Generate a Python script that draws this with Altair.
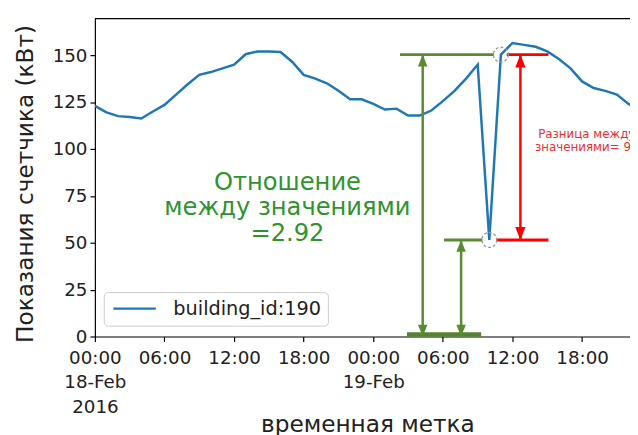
import json
import altair as alt
import pandas as pd

# ---- data ----
hours = list(range(48))  # hours since 2016-02-18 00:00
values = [123, 119.5, 117.5, 117, 116.2, 120, 123.5, 129, 134.5, 139.5, 141, 143,
          145, 150.5, 152, 152, 151.7, 146.5, 139.5, 137.5, 135, 131, 126.5, 126.5,
          124, 121, 121.5, 117.8, 117.8, 120.5, 125.5, 131, 137.5, 145, 51.5, 150.3,
          156.5, 155.5, 154.5, 152, 148, 143, 136, 132.5, 131, 129, 124, 121]
series_name = "building_id:190"

tick_hours = [0, 6, 12, 18, 24, 30, 36, 42]
tick_labels = [["00:00", "18-Feb", "2016"], ["06:00"], ["12:00"], ["18:00"],
               ["00:00", "19-Feb"], ["06:00"], ["12:00"], ["18:00"]]
y_ticks = [0, 25, 50, 75, 100, 125, 150]

low_val = 51.5
high_val = 150.3
low_hour = 34
high_hour = 35

# annotation geometry (in data units)
green_h_start = [26.3, 30.1]
green_h_end = [34.4, 33.4]
green_h_y = [high_val, low_val]
green_base = [26.9, 33.3]
green_arrow_x = [28.26, 31.57]
green_arrow_top = [high_val, low_val]
red_h_start = [35.5, 34.6]
red_h_end = [39.1, 39.1]
red_h_y = [high_val, low_val]
red_arrow_x = 36.68

ratio_text = "Отношение\nмежду значениями\n=2.92"
ratio_pos = (16.6, 82.0)
diff_text = "Разница между\nзначениями= 98"
diff_pos = (42.4, 108.2)

GREEN = "#5a8a32"
GREEN_TEXT = "#2f932f"
RED = "#ff0000"
FONT = "DejaVu Sans"
X_MAX = 46.13
Y_MAX = 169.5

# ---- helpers ----
label_expr = ""
for h, lab in zip(tick_hours, tick_labels):
    label_expr += f"datum.value == {h} ? {json.dumps(lab)} : "
label_expr += "''"

x_axis = alt.Axis(values=tick_hours, labelExpr=label_expr, title="временная метка",
                  grid=False, labelAngle=0, labelBaseline="top", labelLineHeight=25,
                  labelFont=FONT, labelFontSize=18.5, labelColor="#222222",
                  labelPadding=7, labelFlush=False, labelOverlap=False,
                  tickSize=5, tickWidth=1.2, tickColor="black",
                  domainColor="black", domainWidth=1.2,
                  titleFont=FONT, titleFontSize=23.5, titleFontWeight="normal",
                  titleColor="#222222", titleX=276, titleY=96,
                  titleBaseline="alphabetic", titleAlign="center")
y_axis = alt.Axis(values=y_ticks, title="Показания счетчика (кВт)", grid=False,
                  labelFont=FONT, labelFontSize=18.5, labelColor="#222222",
                  labelPadding=3, tickSize=5, tickWidth=1.2, tickColor="black",
                  domainColor="black", domainWidth=1.2,
                  titleFont=FONT, titleFontSize=23.5, titleFontWeight="normal",
                  titleColor="#222222", titleX=-70, titleY=167,
                  titleBaseline="middle", titleAlign="center", titleAngle=270)

xs = alt.Scale(domain=[0, X_MAX], nice=False, zero=False)
ys = alt.Scale(domain=[0, Y_MAX], nice=False, zero=False)


def X(field="hour"):
    return alt.X(f"{field}:Q", scale=xs, axis=x_axis)


def Y(field="value"):
    return alt.Y(f"{field}:Q", scale=ys, axis=y_axis)


# ---- layers ----
line_df = pd.DataFrame({"hour": hours, "value": values, "series": series_name})
line = alt.Chart(line_df).mark_line(clip=True, strokeWidth=2.5).encode(
    x=X(), y=Y(),
    color=alt.Color("series:N", scale=alt.Scale(range=["#1f77b4"]),
                    legend=alt.Legend(orient="none", legendX=9, legendY=277,
                                      title=None, symbolType="M-1,0L5.14,0",
                                      symbolSize=196, symbolStrokeWidth=2.5,
                                      labelFont=FONT, labelFontSize=19.5,
                                      labelColor="#222222", labelOffset=44,
                                      fillColor="white", strokeColor="#cccccc",
                                      cornerRadius=4, padding=7)))

gh_df = pd.DataFrame({"hour": green_h_start, "hour2": green_h_end, "value": green_h_y})
green_h = alt.Chart(gh_df).mark_rule(color=GREEN, strokeWidth=3).encode(
    x=X(), x2="hour2:Q", y=Y())

gb_df = pd.DataFrame({"hour": [green_base[0]], "hour2": [green_base[1]], "value": [0]})
green_b = alt.Chart(gb_df).mark_rule(color="#55832f", strokeWidth=4.5, yOffset=-2).encode(
    x=X(), x2="hour2:Q", y=Y())

gv_df = pd.DataFrame({"hour": green_arrow_x, "value": [0, 0], "value2": green_arrow_top})
green_v = alt.Chart(gv_df).mark_rule(color=GREEN, strokeWidth=2.5).encode(
    x=X(), y=Y(), y2="value2:Q")

rh_df = pd.DataFrame({"hour": red_h_start, "hour2": red_h_end, "value": red_h_y})
red_h = alt.Chart(rh_df).mark_rule(color=RED, strokeWidth=3).encode(
    x=X(), x2="hour2:Q", y=Y())

rv_df = pd.DataFrame({"hour": [red_arrow_x], "value": [low_val], "value2": [high_val]})
red_v = alt.Chart(rv_df).mark_rule(color=RED, strokeWidth=2.5).encode(
    x=X(), y=Y(), y2="value2:Q")

UP = "M0,0L0.8,2L-0.8,2Z"
DOWN = "M0,0L0.8,-2L-0.8,-2Z"
up_green = pd.DataFrame({"hour": green_arrow_x, "value": green_arrow_top})
down_green = pd.DataFrame({"hour": green_arrow_x, "value": [0, 0]})
heads = [
    alt.Chart(up_green).mark_point(shape=UP, filled=True, size=144, opacity=1,
                                   color=GREEN).encode(x=X(), y=Y()),
    alt.Chart(down_green).mark_point(shape=DOWN, filled=True, size=144, opacity=1,
                                     color=GREEN).encode(x=X(), y=Y()),
    alt.Chart(pd.DataFrame({"hour": [red_arrow_x], "value": [high_val]})).mark_point(
        shape=UP, filled=True, size=169, opacity=1, color=RED).encode(x=X(), y=Y()),
    alt.Chart(pd.DataFrame({"hour": [red_arrow_x], "value": [low_val]})).mark_point(
        shape=DOWN, filled=True, size=169, opacity=1, color=RED).encode(x=X(), y=Y()),
]

circ_df = pd.DataFrame({"hour": [low_hour, high_hour], "value": [low_val, high_val]})
circles = alt.Chart(circ_df).mark_point(shape="circle", size=230, filled=False,
                                        color="#999999", strokeWidth=1.3,
                                        strokeDash=[3, 2], opacity=1).encode(x=X(), y=Y())

ratio = alt.Chart(pd.DataFrame({"hour": [ratio_pos[0]], "value": [ratio_pos[1]],
                                "t": [ratio_text]})).mark_text(
    lineBreak="\n", font=FONT, fontSize=24.5, lineHeight=26, align="center",
    baseline="middle", color=GREEN_TEXT).encode(x=X(), y=Y(), text="t:N")

diff = alt.Chart(pd.DataFrame({"hour": [diff_pos[0]], "value": [diff_pos[1]],
                               "t": [diff_text]})).mark_text(
    lineBreak="\n", font=FONT, fontSize=12, lineHeight=14, align="center",
    baseline="middle", color="#e8302f").encode(x=X(), y=Y(), text="t:N")

top_spine = alt.Chart(pd.DataFrame({"a": [0]})).mark_rule(
    color="black", strokeWidth=1.2).encode(
    x=alt.value(0), x2=alt.value(560), y=alt.value(0))

chart = alt.layer(line, green_h, green_b, green_v, red_h, red_v, *heads, circles,
                  ratio, diff, top_spine).properties(
    width=542, height=322,
    autosize=alt.AutoSizeParams(type="none"),
    padding={"left": 88, "top": 8, "right": 0, "bottom": 97},
    background="white",
).configure_view(stroke=None)

chart.save("out.html", embed_options={"renderer": "svg", "actions": False})
